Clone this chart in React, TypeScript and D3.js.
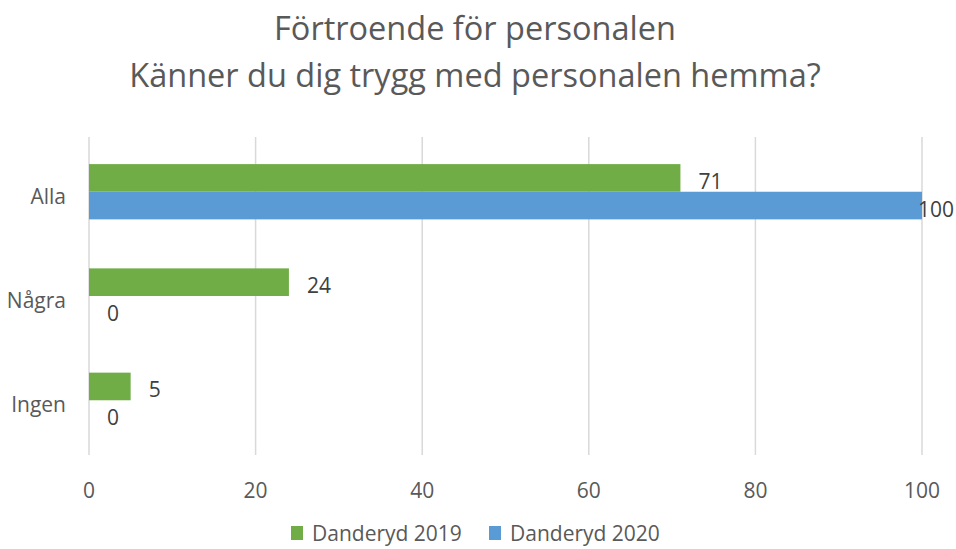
import React, { useEffect, useRef } from "react";
import * as d3 from "d3";

const categories = ["Alla", "Några", "Ingen"];
const seriesNames = ["Danderyd 2019", "Danderyd 2020"];
const values2019 = [71, 24, 5];
const values2020 = [100, 0, 0];
const xTicks = [0, 20, 40, 60, 80, 100];
const titleLines = ["Förtroende för personalen", "Känner du dig trygg med personalen hemma?"];
const colors = ["#70ad47", "#5b9bd5"];

const W = 956;
const H = 549;
const margin = { top: 137, right: 34, bottom: 94, left: 89 };
const font = "'Open Sans', 'Liberation Sans', sans-serif";

export default function App() {
  const ref = useRef<SVGSVGElement>(null);

  useEffect(() => {
    const svg = d3.select(ref.current);
    svg.selectAll("*").remove();

    const width = W - margin.left - margin.right;
    const height = H - margin.top - margin.bottom;

    const x = d3.scaleLinear().domain([0, 100]).range([0, width]);
    const y = d3.scaleBand().domain(categories).range([0, height]).paddingInner(0.47).paddingOuter(0.26);
    const sub = d3.scaleBand().domain(seriesNames).range([0, y.bandwidth()]);

    // title
    svg.append("g")
      .selectAll("text")
      .data(titleLines)
      .join("text")
      .attr("x", W / 2 - 3)
      .attr("y", (d, i) => 40 + i * 47)
      .attr("text-anchor", "middle")
      .style("font", `32.5px ${font}`)
      .attr("fill", "#595959")
      .text(d => d);

    const g = svg.append("g").attr("transform", `translate(${margin.left},${margin.top})`);

    // gridlines
    g.selectAll("line.grid")
      .data(xTicks)
      .join("line")
      .attr("class", "grid")
      .attr("x1", d => x(d)).attr("x2", d => x(d))
      .attr("y1", 0).attr("y2", height)
      .attr("stroke", "#d9d9d9")
      .attr("stroke-width", 1.5);

    // x tick labels
    g.selectAll("text.xt")
      .data(xTicks)
      .join("text")
      .attr("class", "xt")
      .attr("x", d => x(d))
      .attr("y", height + 43)
      .attr("text-anchor", "middle")
      .style("font", `21px ${font}`)
      .attr("fill", "#595959")
      .text(d => d);

    // category labels
    g.selectAll("text.cat")
      .data(categories)
      .join("text")
      .attr("class", "cat")
      .attr("x", -23)
      .attr("y", d => y(d)! + y.bandwidth() / 2 + 12)
      .attr("text-anchor", "end")
      .style("font", `21px ${font}`)
      .attr("fill", "#595959")
      .text(d => d);

    const rows = categories.flatMap((c, i) => [
      { cat: c, s: seriesNames[0], v: values2019[i], color: colors[0] },
      { cat: c, s: seriesNames[1], v: values2020[i], color: colors[1] },
    ]);

    g.selectAll("rect.bar")
      .data(rows)
      .join("rect")
      .attr("class", "bar")
      .attr("x", 0)
      .attr("y", d => y(d.cat)! + sub(d.s)!)
      .attr("width", d => x(d.v))
      .attr("height", sub.bandwidth())
      .attr("fill", d => d.color);

    g.selectAll("text.lbl")
      .data(rows)
      .join("text")
      .attr("class", "lbl")
      .attr("x", d => Math.min(x(d.v) + 18, W - margin.left - 38))
      .attr("y", d => y(d.cat)! + sub(d.s)! + sub.bandwidth() / 2 + 11)
      .style("font", `21px ${font}`)
      .attr("fill", "#404040")
      .text(d => d.v);

    // legend
    const legendX = [291, 489];
    const lg = svg.append("g");
    seriesNames.forEach((name, i) => {
      lg.append("rect")
        .attr("x", legendX[i]).attr("y", 526)
        .attr("width", 12).attr("height", 14)
        .attr("fill", colors[i]);
      lg.append("text")
        .attr("x", legendX[i] + 21).attr("y", 541)
        .style("font", `21px ${font}`)
        .attr("fill", "#595959")
        .text(name);
    });
  }, []);

  return <svg ref={ref} width={W} height={H} style={{ display: "block", position: "absolute", left: 0, top: 0, background: "#fff" }} />;
}
